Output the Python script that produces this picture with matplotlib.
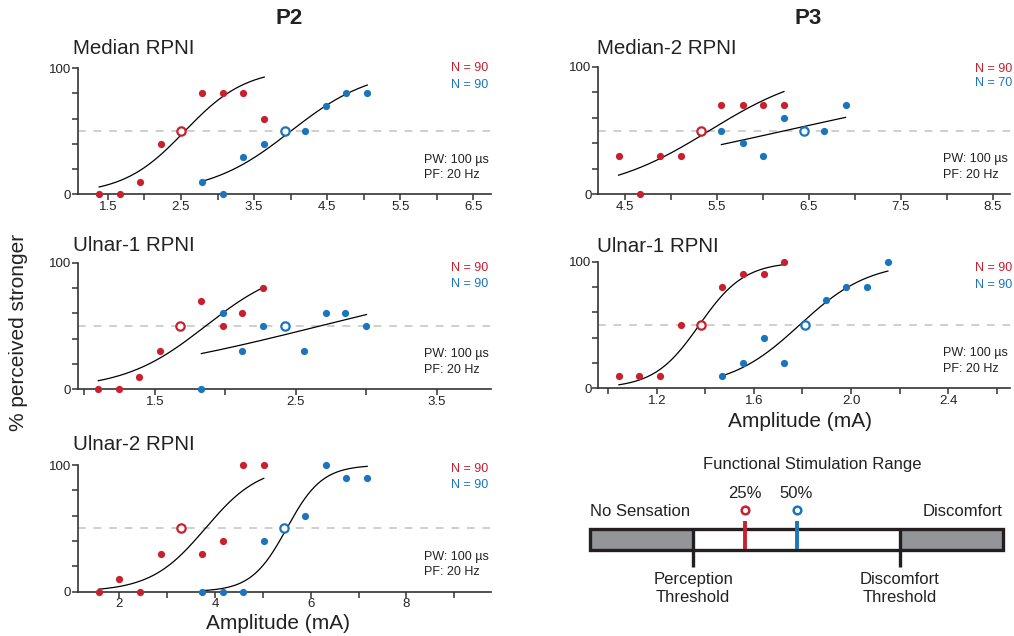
import numpy as np
import matplotlib
matplotlib.use('Agg')
import matplotlib.pyplot as plt
from matplotlib.patches import Rectangle

plt.rcParams['font.family'] = ['Liberation Sans', 'DejaVu Sans']

RED = '#C8202E'
BLUE = '#1C75BC'
AXC = '#333333'

# ---- data ----
# P2 Median RPNI
med_red_x = [1.38, 1.66, 1.94, 2.23, 2.79, 3.07, 3.35, 3.64]
med_red_y = [0, 0, 10, 40, 80, 80, 80, 60]
med_blue_x = [2.79, 3.07, 3.35, 3.64, 4.20, 4.48, 4.76, 5.05]
med_blue_y = [10, 0, 30, 40, 50, 70, 80, 80]
med_thr = [2.50, 3.92]
med_fit = [(2.55, 0.42), (4.00, 0.56)]
med_ticks = [1.5, 2.0, 2.5, 3.0, 3.5, 4.0, 4.5, 5.0, 5.5, 6.0, 6.5]
med_labels = ['1.5', '', '2.5', '', '3.5', '', '4.5', '', '5.5', '', '6.5']

# P2 Ulnar-1 RPNI
ul1_red_x = [1.10, 1.25, 1.39, 1.54, 1.83, 1.98, 2.12, 2.27]
ul1_red_y = [0, 0, 10, 30, 70, 50, 60, 80]
ul1_blue_x = [1.83, 1.98, 2.12, 2.27, 2.56, 2.71, 2.85, 3.00]
ul1_blue_y = [0, 60, 30, 50, 30, 60, 60, 50]
ul1_thr = [1.68, 2.42]
ul1_fit = [(1.86, 0.29), (2.67, 0.90)]
ul1_ticks = [1.0, 1.5, 2.0, 2.5, 3.0, 3.5]
ul1_labels = ['', '1.5', '', '2.5', '', '3.5']

# P2 Ulnar-2 RPNI
ul2_red_x = [1.57, 2.00, 2.43, 2.87, 3.72, 4.16, 4.59, 5.02]
ul2_red_y = [0, 10, 0, 30, 30, 40, 100, 100]
ul2_blue_x = [3.72, 4.16, 4.59, 5.02, 5.88, 6.31, 6.74, 7.18]
ul2_blue_y = [0, 0, 0, 40, 60, 100, 90, 90]
ul2_thr = [3.29, 5.45]
ul2_fit = [(3.80, 0.57), (5.50, 0.37)]
ul2_ticks = [2, 3, 4, 5, 6, 7, 8, 9]
ul2_labels = ['2', '', '4', '', '6', '', '8', '']

# P3 Median-2 RPNI
med2_red_x = [4.43, 4.66, 4.88, 5.11, 5.55, 5.78, 6.00, 6.23]
med2_red_y = [30, 0, 30, 30, 70, 70, 70, 70]
med2_blue_x = [5.55, 5.78, 6.00, 6.23, 6.67, 6.90]
med2_blue_y = [50, 40, 30, 60, 50, 70]
med2_thr = [5.33, 6.45]
med2_fit = [(5.42, 0.57), (6.25, 1.56)]
med2_ticks = [4.5, 5.0, 5.5, 6.0, 6.5, 7.0, 7.5, 8.0, 8.5]
med2_labels = ['4.5', '', '5.5', '', '6.5', '', '7.5', '', '8.5']

# P3 Ulnar-1 RPNI
p3u_red_x = [1.044, 1.128, 1.214, 1.300, 1.469, 1.554, 1.640, 1.726]
p3u_red_y = [10, 10, 10, 50, 80, 90, 90, 100]
p3u_blue_x = [1.469, 1.554, 1.640, 1.726, 1.895, 1.980, 2.065, 2.152]
p3u_blue_y = [10, 20, 40, 20, 70, 80, 80, 100]
p3u_thr = [1.383, 1.811]
p3u_fit = [(1.375, 0.093), (1.788, 0.144)]
p3u_ticks = [1.0, 1.2, 1.4, 1.6, 1.8, 2.0, 2.2, 2.4, 2.6]
p3u_labels = ['', '1.2', '', '1.6', '', '2.0', '', '2.4', '']

n_counts = {'med': (90, 90), 'ul1': (90, 90), 'ul2': (90, 90),
            'med2': (90, 70), 'p3u': (90, 90)}

# schematic (percent of bar length)
thresholds = [25, 75]
marker_pos = [37.5, 50]
marker_labels = ['25%', '50%']

fig = plt.figure(figsize=(10.14, 6.36), dpi=100)

W, H = 1014, 636


def px_axes(x0, x1, ytop, ybot):
    return fig.add_axes([x0 / W, 1 - ybot / H, (x1 - x0) / W, (ybot - ytop) / H])


panels = [
    # key, title, axes px box, xlim, data, ticks, title x/y, N y
    ('med', 'Median RPNI', (78, 490.7, 68.3, 194.3), (1.09, 6.74),
     (med_red_x, med_red_y, med_blue_x, med_blue_y, med_thr, med_fit),
     (med_ticks, med_labels), -0.012, 1.11, (1.0, 0.867)),
    ('ul1', 'Ulnar-1 RPNI', (78, 490.7, 262.7, 389.3), (0.956, 3.88),
     (ul1_red_x, ul1_red_y, ul1_blue_x, ul1_blue_y, ul1_thr, ul1_fit),
     (ul1_ticks, ul1_labels), -0.012, 1.09, (0.956, 0.83)),
    ('ul2', 'Ulnar-2 RPNI', (78, 490.7, 465, 591.7), (1.14, 9.76),
     (ul2_red_x, ul2_red_y, ul2_blue_x, ul2_blue_y, ul2_thr, ul2_fit),
     (ul2_ticks, ul2_labels), -0.012, 1.12, (0.968, 0.842)),
    ('med2', 'Median-2 RPNI', (598.3, 1010, 66.7, 194.3), (4.21, 8.69),
     (med2_red_x, med2_red_y, med2_blue_x, med2_blue_y, med2_thr, med2_fit),
     (med2_ticks, med2_labels), -0.004, 1.10, (0.982, 0.87)),
    ('p3u', 'Ulnar-1 RPNI', (598.3, 1010, 261.7, 388.3), (0.959, 2.655),
     (p3u_red_x, p3u_red_y, p3u_blue_x, p3u_blue_y, p3u_thr, p3u_fit),
     (p3u_ticks, p3u_labels), -0.004, 1.08, (0.95, 0.816)),
]

for key, title, box, xlim, dat, ticks, tx, ty, ny in panels:
    ax = px_axes(*box)
    rx, ry, bx, by, thr, fit = dat
    ax.axhline(50, color='#cfcfcf', lw=1.4, ls=(0, (4, 4)), zorder=1)
    for xs, (x0, s) in zip([rx, bx], fit):
        xx = np.linspace(min(xs), max(xs), 200)
        ax.plot(xx, 100 / (1 + np.exp(-(xx - x0) / s)), color='black', lw=0.9, zorder=2)
    ax.plot(rx, ry, 'o', color=RED, ms=5.2, mec='none', clip_on=False, zorder=3)
    ax.plot(bx, by, 'o', color=BLUE, ms=5.2, mec='none', clip_on=False, zorder=3)
    ax.plot(thr[0], 50, 'o', mfc='white', mec=RED, ms=6, mew=1.6, zorder=4)
    ax.plot(thr[1], 50, 'o', mfc='white', mec=BLUE, ms=6, mew=1.6, zorder=4)
    ax.set_xlim(*xlim)
    ax.set_ylim(0, 100)
    ax.set_xticks(ticks[0])
    ax.set_xticklabels(ticks[1])
    ax.set_yticks([0, 20, 40, 60, 80, 100])
    ax.set_yticklabels(['0', '', '', '', '', '100'])
    for sp in ['top', 'right']:
        ax.spines[sp].set_visible(False)
    for sp in ['left', 'bottom']:
        ax.spines[sp].set_color(AXC)
        ax.spines[sp].set_linewidth(1.2)
    ax.tick_params(direction='out', length=4, width=1.1, color=AXC,
                   labelsize=9.5, labelcolor='#222222', pad=0.8)
    ax.text(tx, ty, title, transform=ax.transAxes, fontsize=14.8, va='baseline',
            color='#222222')
    nr, nb = n_counts[key]
    nx = 0.995 if box[0] < 500 else 1.005
    ax.text(nx, ny[0], f'N = {nr}', transform=ax.transAxes, ha='right', va='center',
            fontsize=9, color=RED)
    ax.text(nx, ny[1], f'N = {nb}', transform=ax.transAxes, ha='right', va='center',
            fontsize=9, color=BLUE)
    ax.text(0.838, 0.275, 'PW: 100 µs', transform=ax.transAxes, va='center',
            fontsize=9, color='#222222')
    ax.text(0.838, 0.155, 'PF: 20 Hz', transform=ax.transAxes, va='center',
            fontsize=9, color='#222222')

# headers and shared labels
fig.text(289 / W, 1 - 19 / H, 'P2', ha='center', va='center', fontsize=16,
         fontweight='bold', color='#222222')
fig.text(808 / W, 1 - 19 / H, 'P3', ha='center', va='center', fontsize=16,
         fontweight='bold', color='#222222')
fig.text(19 / W, 1 - 332 / H, '% perceived stronger', rotation=90, ha='center',
         va='center', fontsize=15, color='#222222')
fig.text(278 / W, 1 - 629 / H, 'Amplitude (mA)', ha='center', va='baseline',
         fontsize=15, color='#222222')
fig.text(800 / W, 1 - 427 / H, 'Amplitude (mA)', ha='center', va='baseline',
         fontsize=15, color='#222222')

# functional stimulation range schematic
sx = fig.add_axes([590 / W, 0, 413 / W, 196 / H])
sx.set_xlim(0, 100)
sx.set_ylim(-4.095, 5.238)
sx.axis('off')
DK = '#231f20'
GRAY = '#939598'
sx.add_patch(Rectangle((0, 0), thresholds[0], 1, facecolor=GRAY, edgecolor='none'))
sx.add_patch(Rectangle((thresholds[1], 0), 100 - thresholds[1], 1, facecolor=GRAY,
                       edgecolor='none'))
sx.add_patch(Rectangle((0, 0), 100, 1, facecolor='none', edgecolor=DK, lw=2.4,
                       clip_on=False, zorder=3))
for t in thresholds:
    sx.plot([t, t], [1, -0.81], color=DK, lw=2.4, solid_capstyle='butt', zorder=4)
for pos, lab, c in zip(marker_pos, marker_labels, [RED, BLUE]):
    sx.plot([pos, pos], [0.05, 1.38], color=c, lw=2.8, solid_capstyle='butt', zorder=5)
    sx.plot(pos, 1.9, 'o', mfc='white', mec=c, ms=5.5, mew=1.8, zorder=5)
    sx.text(pos, 2.71, lab, ha='center', va='center', fontsize=12, color='#222222')
sx.text(53.75, 4.05, 'Functional Stimulation Range', ha='center', va='center',
        fontsize=12, color='#222222')
sx.text(0, 1.81, 'No Sensation', ha='left', va='center', fontsize=12, color='#222222')
sx.text(100, 1.81, 'Discomfort', ha='right', va='center', fontsize=12, color='#222222')
sx.text(thresholds[0], -1.05, 'Perception\nThreshold', ha='center', va='top',
        fontsize=12, linespacing=1.25, color='#222222')
sx.text(thresholds[1], -1.05, 'Discomfort\nThreshold', ha='center', va='top',
        fontsize=12, linespacing=1.25, color='#222222')

fig.savefig('out.png', dpi=100)
